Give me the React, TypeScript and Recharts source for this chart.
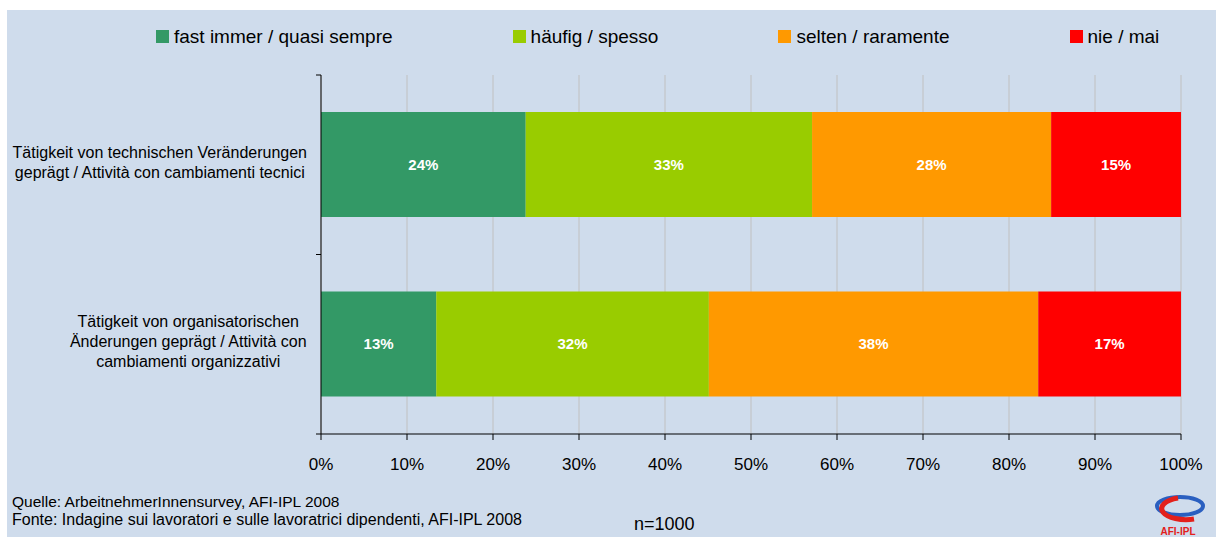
import React from 'react';
import { BarChart, Bar, XAxis, YAxis, CartesianGrid, LabelList } from 'recharts';

// categories (line breaks as in the original axis labels)
const categories = [
  'Tätigkeit von technischen Veränderungen\ngeprägt / Attività con cambiamenti tecnici',
  'Tätigkeit von organisatorischen\nÄnderungen geprägt / Attività con\ncambiamenti organizzativi',
];
// band centres on the y axis (0 is at the top in vertical layout)
const categoryPos = [0.5, 1.5];

const seriesNames = ['fast immer / quasi sempre', 'häufig / spesso', 'selten / raramente', 'nie / mai'];
const seriesKeys = ['fast', 'haeufig', 'selten', 'nie'];
const seriesColors = ['#339966', '#99cc00', '#ff9900', '#ff0000'];

// shares in %
const fastImmer = [23.8, 13.4];
const haeufig = [33.3, 31.7];
const selten = [27.8, 38.3];
const nie = [15.1, 16.6];

const xTicks = [0, 10, 20, 30, 40, 50, 60, 70, 80, 90, 100];
const yTicks = [0, 0.5, 1, 1.5, 2];

const FONT = '"Liberation Sans", Arial, Helvetica, sans-serif';
const BG = '#cfdcec';

const data = categories.map((name, i) => ({
  name,
  pos: categoryPos[i],
  fast: fastImmer[i],
  haeufig: haeufig[i],
  selten: selten[i],
  nie: nie[i],
}));

let ctx: CanvasRenderingContext2D | null = null;
const textWidth = (s: string) => {
  if (!ctx) ctx = document.createElement('canvas').getContext('2d');
  if (!ctx) return s.length * 8;
  ctx.font = `16px ${FONT}`;
  return ctx.measureText(s).width;
};

// boundary ticks get a short tick mark, band centres get the wrapped label
const CategoryTick = (props: any) => {
  const { x, y, payload } = props;
  const idx = categoryPos.indexOf(payload.value);
  if (idx < 0) {
    return <line x1={x - 5} x2={x} y1={y} y2={y} stroke="#000" strokeWidth={1} />;
  }
  const lines = categories[idx].split('\n');
  const w = Math.max(...lines.map(textWidth));
  const cx = x - 14 - w / 2;
  return (
    <text textAnchor="middle" fontSize={16} fill="#000">
      {lines.map((l, i) => (
        <tspan key={i} x={cx} y={y + (i - (lines.length - 1) / 2) * 20 + 3}>
          {l}
        </tspan>
      ))}
    </text>
  );
};

const App: React.FC = () => {
  return (
    <div
      style={{
        position: 'absolute',
        left: 7,
        top: 10,
        width: 1209,
        height: 527,
        background: BG,
        fontFamily: FONT,
        color: '#000',
        overflow: 'hidden',
      }}
    >
      <div
        style={{
          position: 'absolute',
          left: 149,
          top: 17,
          display: 'flex',
          alignItems: 'center',
          gap: 120,
          fontSize: 19,
          lineHeight: '19px',
          whiteSpace: 'nowrap',
        }}
      >
        {seriesNames.map((n, i) => (
          <div key={n} style={{ display: 'flex', alignItems: 'center' }}>
            <span style={{ width: 13, height: 13, background: seriesColors[i], marginRight: 5 }} />
            {n}
          </div>
        ))}
      </div>

      <BarChart
        width={1209}
        height={527}
        data={data}
        layout="vertical"
        margin={{ top: 65, right: 35, left: 0, bottom: 63 }}
      >
        <CartesianGrid horizontal={false} stroke="#c0c0c0" />
        <XAxis
          type="number"
          domain={[0, 100]}
          ticks={xTicks}
          interval={0}
          tickFormatter={(v) => `${v}%`}
          tick={{ fill: '#000', fontSize: 17 }}
          tickSize={6}
          tickMargin={18}
          height={40}
          axisLine={{ stroke: '#000' }}
          tickLine={{ stroke: '#000' }}
        />
        <YAxis
          type="number"
          dataKey="pos"
          domain={[0, 2]}
          ticks={yTicks}
          interval={0}
          width={314}
          tickSize={0}
          tickMargin={0}
          tickLine={false}
          axisLine={{ stroke: '#000' }}
          tick={<CategoryTick />}
        />
        {seriesKeys.map((k, i) => (
          <Bar
            key={k}
            dataKey={k}
            name={seriesNames[i]}
            stackId="s"
            fill={seriesColors[i]}
            barSize={105}
            isAnimationActive={false}
          >
            <LabelList
              dataKey={k}
              position="center"
              fill="#fff"
              fontWeight="bold"
              fontSize={15}
              formatter={(v: any) => `${Math.round(Number(v))}%`}
            />
          </Bar>
        ))}
      </BarChart>

      <div style={{ position: 'absolute', left: 5, top: 483, lineHeight: '18px' }}>
        <div style={{ fontSize: 15.5 }}>Quelle: ArbeitnehmerInnensurvey, AFI-IPL 2008</div>
        <div style={{ fontSize: 16 }}>Fonte: Indagine sui lavoratori e sulle lavoratrici dipendenti, AFI-IPL 2008</div>
      </div>
      <div style={{ position: 'absolute', left: 627, top: 505, fontSize: 18, lineHeight: '18px' }}>n=1000</div>

      <svg style={{ position: 'absolute', left: 1133, top: 482 }} width={76} height={45}>
        <ellipse cx={40} cy={14} rx={23} ry={9} fill="none" stroke="#2a5fc0" strokeWidth={4} />
        <path d="M 38 6 A 24 11 0 1 0 54 27" fill="none" stroke="#e3201b" strokeWidth={5} />
        <text x={38} y={43} textAnchor="middle" fontSize={10} fontWeight="bold" fill="#e3201b">
          AFI-IPL
        </text>
      </svg>
    </div>
  );
};

export default App;
